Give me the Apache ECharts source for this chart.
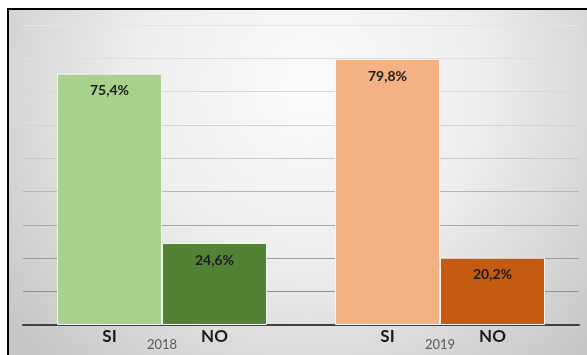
<!DOCTYPE html>
<html>
<head>
<meta charset="utf-8">
<script src="https://cdn.jsdelivr.net/npm/echarts@6/dist/echarts.min.js"></script>
<style>
html,body{margin:0;padding:0;background:#fff;}
#c{width:587px;height:355px;}
</style>
</head>
<body>
<div id="c"></div>
<script>
// Data
const years = ['2018', '2019'];
const siValues = [75.4, 79.8];
const noValues = [24.6, 20.2];
const siColors = ['#a9d18e', '#f4b183'];
const noColors = ['#548235', '#c55a11'];
const seriesNames = ['SI', 'NO'];
const yMin = 0, yMax = 90, yStep = 10;

const font = 'Lato, "Liberation Sans", sans-serif';
const fmt = v => v.toFixed(1).replace('.', ',') + '%';

function items(vals, cols) {
  return vals.map((v, i) => ({ value: v, itemStyle: { color: cols[i] } }));
}

const valueLabel = {
  show: true, position: 'insideTop', distance: 10,
  formatter: p => fmt(p.value),
  fontFamily: font, fontWeight: 'bold', fontSize: 14, color: '#1a1a1a'
};

function nameLabelSeries(name, vals) {
  return {
    type: 'bar', name: name + '_lbl', xAxisIndex: 1, data: vals,
    barWidth: 105, barGap: 0, silent: true,
    itemStyle: { color: 'rgba(0,0,0,0)' },
    label: {
      show: true, position: 'bottom', distance: 3, formatter: name,
      fontFamily: font, fontWeight: 'bold', fontSize: 17, color: '#1a1a1a'
    },
    z: 3
  };
}

const chart = echarts.init(document.getElementById('c'), null, { renderer: 'canvas' });
chart.setOption({
  animation: false,
  graphic: [{
    type: 'rect', z: -10, silent: true,
    shape: { x: 8, y: 9, width: 600, height: 360 },
    style: {
      fill: {
        type: 'radial', x: 0.5, y: 0.22, r: 1.05,
        colorStops: [
          { offset: 0, color: '#fbfbfb' },
          { offset: 0.45, color: '#eeeeee' },
          { offset: 1, color: '#c6c6c6' }
        ]
      },
      stroke: '#000', lineWidth: 2
    }
  }],
  grid: { left: 23, right: 8, top: 25, bottom: 30 },
  xAxis: [{
    type: 'category', data: years,
    axisLine: { show: true, lineStyle: { color: '#404040', width: 2 } },
    axisTick: { show: false },
    axisLabel: { margin: 13, fontFamily: font, fontSize: 13, color: '#595959' }
  }, {
    type: 'category', data: years, show: false
  }],
  yAxis: {
    type: 'value', min: yMin, max: yMax, interval: yStep,
    axisLabel: { show: false }, axisLine: { show: false }, axisTick: { show: false },
    splitLine: {
      show: true,
      lineStyle: {
        width: 1,
        color: ['#858585', '#8e8e8e', '#9b9b9b', '#a8a8a8', '#b6b6b6', '#c8c8c8', '#d2d2d2', '#d8d8d8', '#dedede', '#e4e4e4']
      }
    }
  },
  series: [
    {
      type: 'bar', name: seriesNames[0], data: items(siValues, siColors),
      barWidth: 105, barGap: 0,
      itemStyle: { borderColor: '#f4f4f4', borderWidth: 1 },
      label: valueLabel
    },
    {
      type: 'bar', name: seriesNames[1], data: items(noValues, noColors),
      barWidth: 105, barGap: 0,
      itemStyle: { borderColor: '#f4f4f4', borderWidth: 1 },
      label: valueLabel
    },
    nameLabelSeries(seriesNames[0], siValues),
    nameLabelSeries(seriesNames[1], noValues)
  ]
});
</script>
</body>
</html>
